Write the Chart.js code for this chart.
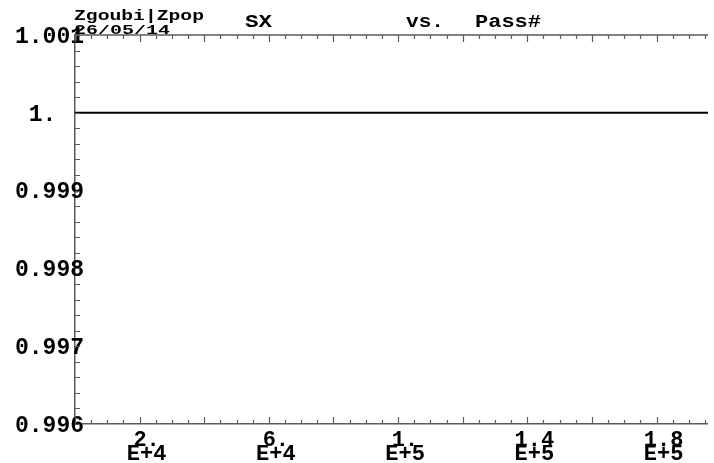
<!DOCTYPE html>
<html>
<head>
<meta charset="utf-8">
<title>Zgoubi SX vs Pass#</title>
<script src="https://cdn.jsdelivr.net/npm/chart.js@4/dist/chart.umd.min.js"></script>
<style>
  body { margin: 0; background: #fff; }
  #box { width: 714px; height: 463px; position: relative; }
</style>
</head>
<body>
<div id="box"><canvas id="myChart"></canvas></div>
<script>
// dados do grafico
const passes = [1, 40000, 80000, 120000, 160000, 200000];
const sx = [1, 1, 1, 1, 1, 1];

// ticks do eixo x (valores com rotulo e rotulos)
const xLabelValues = [20000, 60000, 100000, 140000, 180000];
const xLabelText = [['2.', 'E+4'], ['6.', 'E+4'], ['1.', 'E+5'], ['1.4', 'E+5'], ['1.8', 'E+5']];
// ticks do eixo y
const yLabelValues = [0.996, 0.997, 0.998, 0.999, 1.0, 1.001];
const yLabelText = ['0.996', '0.997', '0.998', '0.999', '1.', '1.001'];

const xMin = 0, xMax = 195900, xMinorStep = 5000, xMajorStep = 20000;
const yMin = 0.996, yMax = 1.001, yMinorStep = 0.0002;

const axisColor = '#5a5a5a';
const monoFont = "'Liberation Mono', 'DejaVu Sans Mono', monospace";

// lista de ticks menores
const xTickValues = [];
for (let i = 0; i * xMinorStep <= xMax; i++) xTickValues.push(i * xMinorStep);
const yTickValues = [];
for (let i = 0; Math.round((yMin + i * yMinorStep) * 1e6) <= Math.round(yMax * 1e6); i++) {
  yTickValues.push(Math.round((yMin + i * yMinorStep) * 1e6) / 1e6);
}

function findLabel(values, texts, v) {
  for (let i = 0; i < values.length; i++) {
    if (Math.abs(values[i] - v) < 1e-7 * Math.max(1, Math.abs(v))) return texts[i];
  }
  return '';
}

function stretchText(ctx, text, x, y, size, width) {
  ctx.save();
  ctx.font = 'bold ' + size + 'px ' + monoFont;
  ctx.textAlign = 'left';
  ctx.textBaseline = 'alphabetic';
  const w = ctx.measureText(text).width;
  ctx.translate(x, y);
  ctx.scale(width / w, 1);
  ctx.fillText(text, 0, 0);
  ctx.restore();
}

// desenha ticks para dentro, moldura de cima e titulos
const frameAndTitles = {
  id: 'frameAndTitles',
  afterDraw(chart) {
    const ctx = chart.ctx;
    const area = chart.chartArea;
    const xs = chart.scales.x, ys = chart.scales.y;
    ctx.save();
    ctx.strokeStyle = axisColor;
    ctx.lineWidth = 1.5;
    ctx.beginPath();
    ctx.moveTo(area.left, area.top);
    ctx.lineTo(area.right, area.top);
    ctx.stroke();
    ctx.lineWidth = 1.2;
    ctx.beginPath();
    xTickValues.forEach(v => {
      const px = Math.round(xs.getPixelForValue(v)) + 0.5;
      const len = (v % xMajorStep === 0) ? 7 : 4;
      ctx.moveTo(px, area.bottom);
      ctx.lineTo(px, area.bottom - len);
      ctx.moveTo(px, area.top);
      ctx.lineTo(px, area.top + len);
    });
    yTickValues.forEach(v => {
      const py = Math.round(ys.getPixelForValue(v)) + 0.5;
      ctx.moveTo(area.left, py);
      ctx.lineTo(area.left + 5, py);
    });
    ctx.stroke();
    ctx.restore();

    ctx.save();
    ctx.fillStyle = '#000';
    stretchText(ctx, 'Zgoubi|Zpop', 74, 20, 14, 130);
    stretchText(ctx, '26/05/14', 74, 34, 13, 96);
    stretchText(ctx, 'SX', 245, 27, 18, 27);
    stretchText(ctx, 'vs.', 406, 27, 18, 38);
    stretchText(ctx, 'Pass#', 475, 27, 18, 66);
    ctx.restore();
  }
};

const ctx = document.getElementById('myChart').getContext('2d');
const myChart = new Chart(ctx, {
  type: 'line',
  data: {
    labels: passes,
    datasets: [{
      label: 'SX',
      data: passes.map((p, i) => ({ x: p, y: sx[i] })),
      borderColor: '#000',
      borderWidth: 2,
      pointRadius: 0,
      tension: 0,
      fill: false
    }]
  },
  options: {
    responsive: true,
    maintainAspectRatio: false,
    animation: false,
    layout: { padding: { top: 35, left: 0, right: 0, bottom: 0 } },
    plugins: {
      legend: { display: false },
      tooltip: { enabled: false },
      title: { display: false }
    },
    scales: {
      x: {
        type: 'linear',
        min: xMin,
        max: xMax,
        afterBuildTicks: scale => { scale.ticks = xTickValues.map(v => ({ value: v })); },
        afterFit: scale => { scale.height = 39; },
        grid: { display: false, drawTicks: false },
        border: { display: true, color: axisColor, width: 1.5 },
        ticks: {
          autoSkip: false,
          maxRotation: 0,
          minRotation: 0,
          padding: 9,
          labelOffset: 7,
          color: '#000',
          font: { family: monoFont, size: 22, weight: 'bold', lineHeight: '14px' },
          callback: v => findLabel(xLabelValues, xLabelText, v)
        }
      },
      y: {
        type: 'linear',
        min: yMin,
        max: yMax,
        afterBuildTicks: scale => { scale.ticks = yTickValues.map(v => ({ value: v })); },
        afterFit: scale => { scale.width = 75; },
        grid: { display: false, drawTicks: false },
        border: { display: true, color: axisColor, width: 1.5 },
        ticks: {
          autoSkip: false,
          mirror: true,
          padding: -60,
          labelOffset: 2,
          color: '#000',
          font: { family: monoFont, size: 23, weight: 'bold' },
          callback: v => {
            const t = findLabel(yLabelValues, yLabelText, v);
            return t.length === 2 ? ' ' + t : t;
          }
        }
      }
    }
  },
  plugins: [frameAndTitles]
});
</script>
</body>
</html>
